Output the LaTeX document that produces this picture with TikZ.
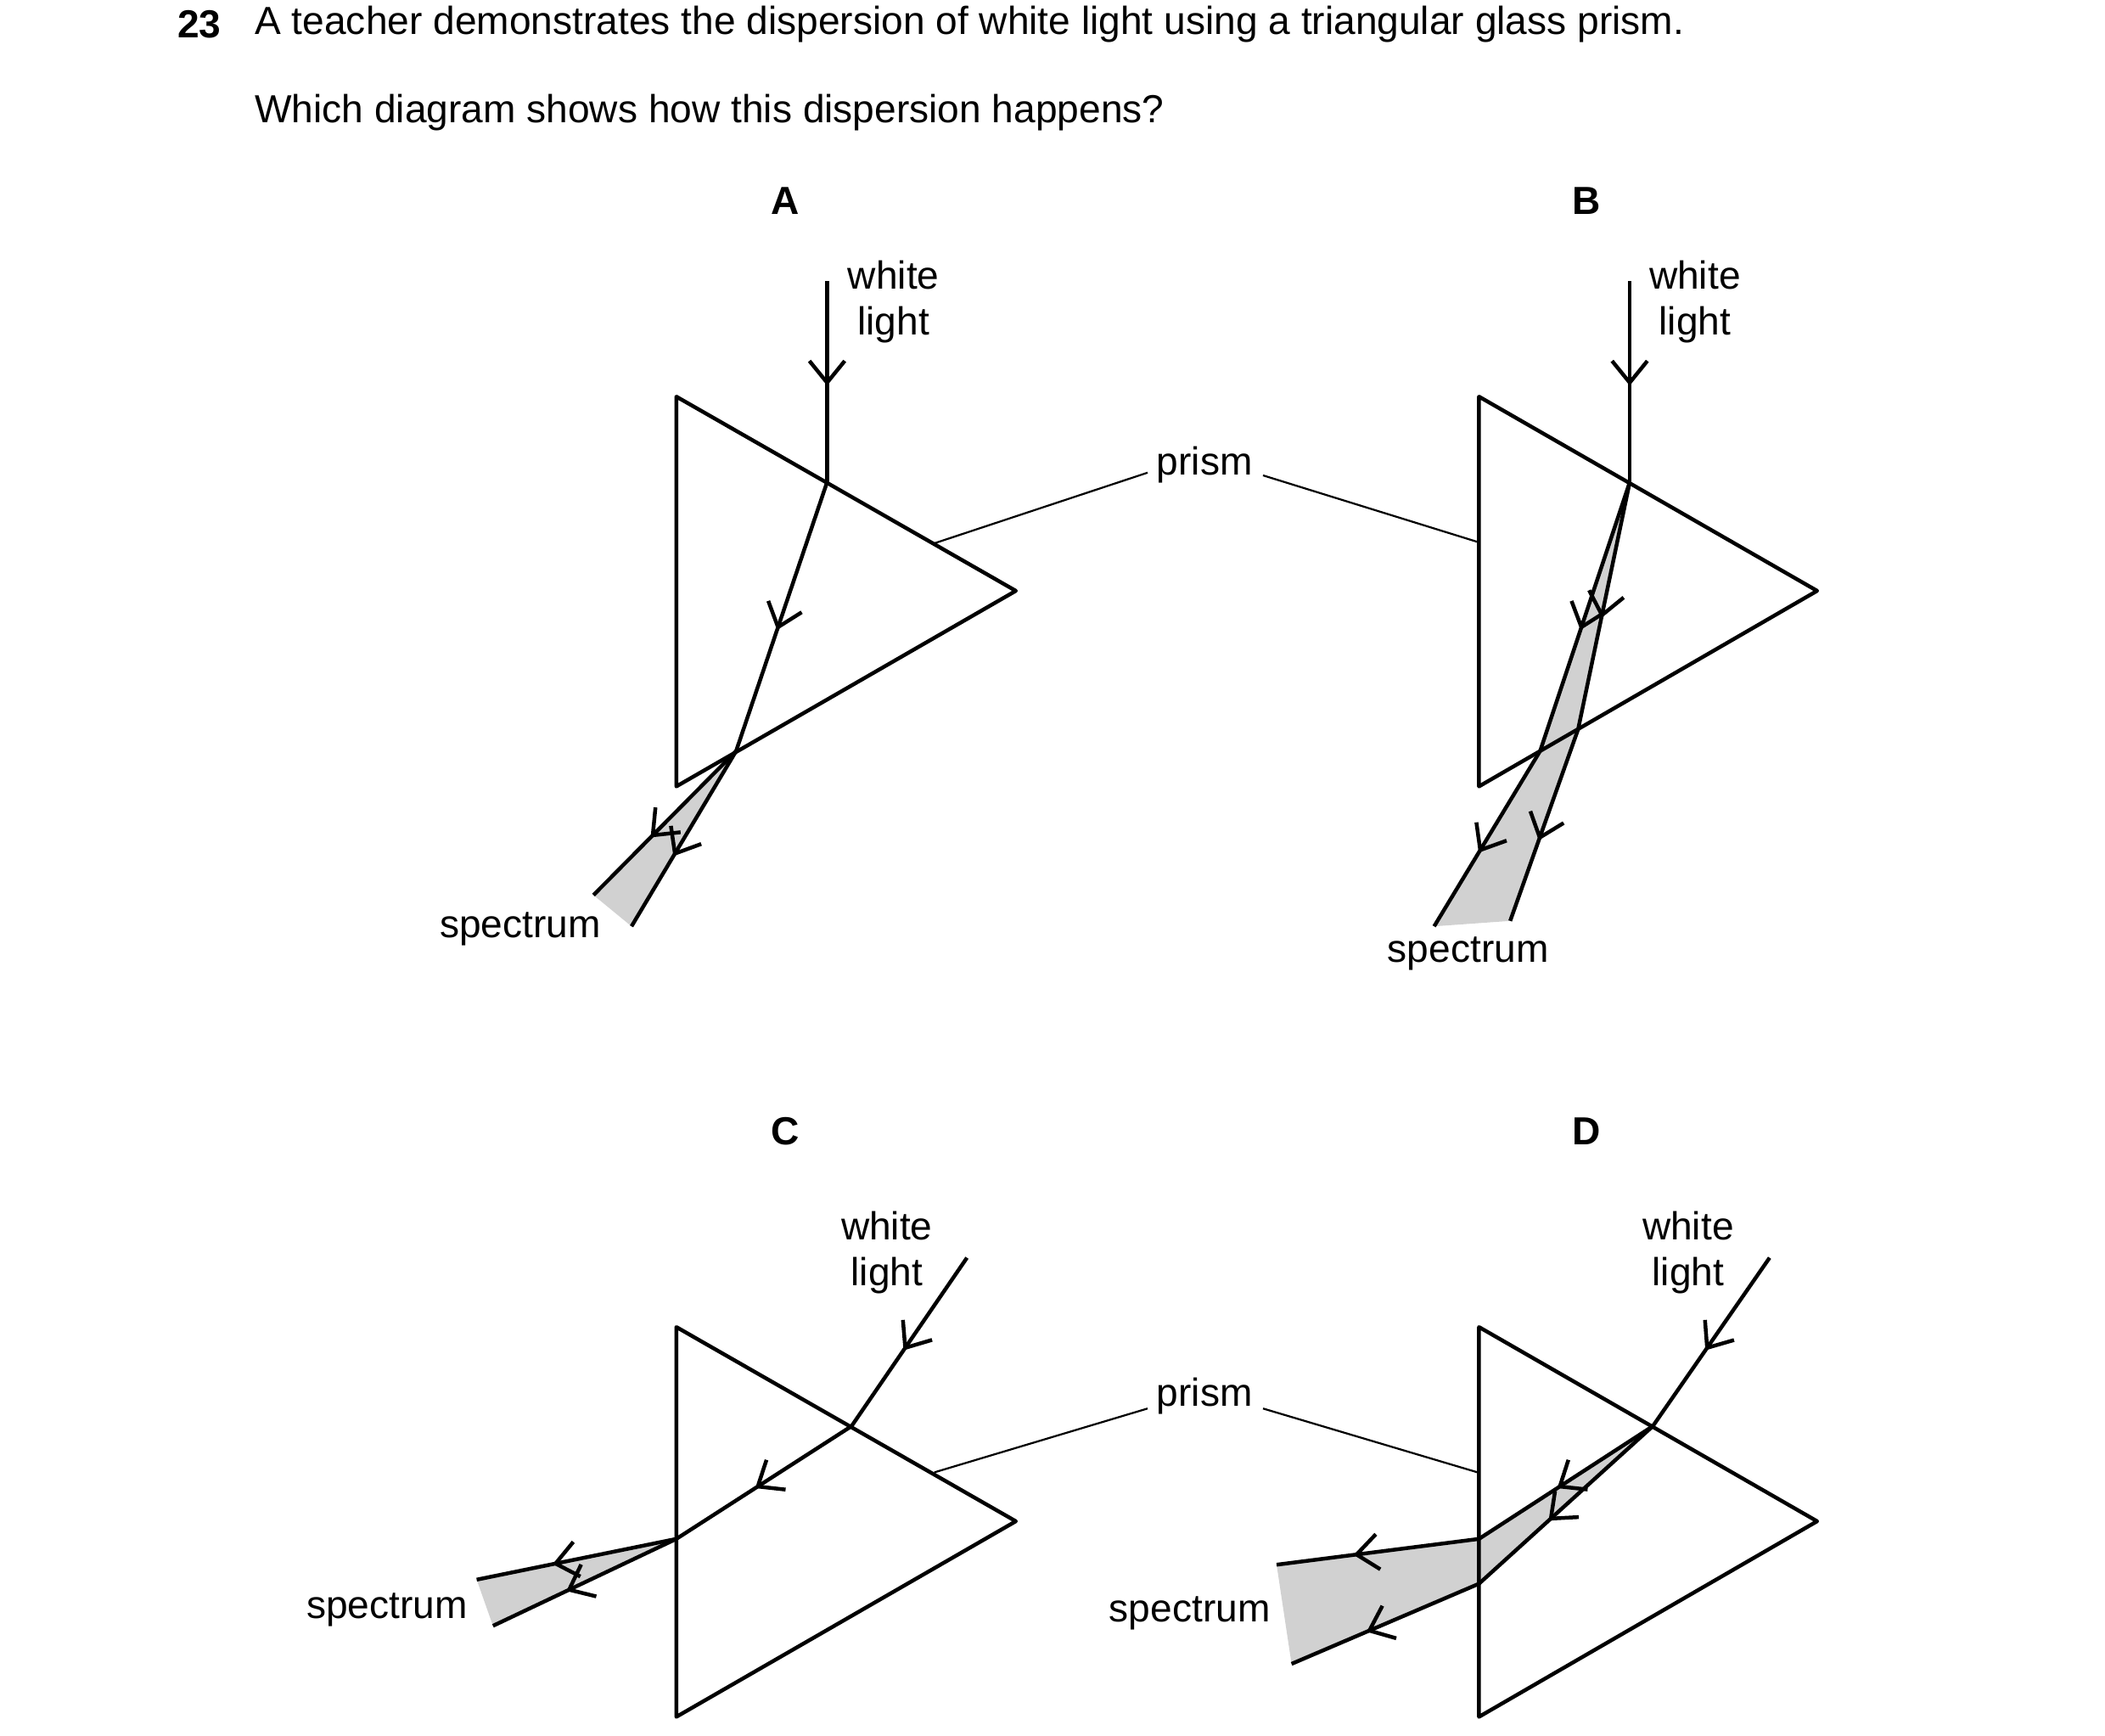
\documentclass[tikz,border=0pt]{standalone}
\usepackage{fontspec}
\setmainfont{Liberation Sans}
\usetikzlibrary{arrows.meta,decorations.markings}
\begin{document}
\begin{tikzpicture}[x=0.1mm,y=-0.1mm,
  ray/.style={line width=0.8pt,line join=round},
  fillb/.style={fill=black!18,draw=none},
  lab/.style={font=\fontsize{8.2}{9.6}\selectfont,align=center,inner sep=0pt},
  let/.style={font=\fontsize{8.2}{9.6}\selectfont\bfseries,inner sep=0pt},
  lead/.style={line width=0.4pt},
  ma/.style={postaction={decorate},decoration={markings,mark=at position #1 with {\arrow{Straight Barb[length=1.6mm,width=2.6mm,line width=0.8pt]}}}}]
\useasboundingbox (0,0) rectangle (1550,1278);
\node[let,anchor=west] (q) at (130,18) {23};
\node[lab,anchor=west] (t1) at (187,18) {A teacher demonstrates the dispersion of white light using a triangular glass prism.};
\node[lab,anchor=west] (t2) at (187,83) {Which diagram shows how this dispersion happens?};
% A
\node[let] (LA) at (578,148) {A};
\coordinate (a1) at (498,292); \coordinate (a2) at (748,435); \coordinate (a3) at (498,579);
\coordinate (aw) at (609,207); \coordinate (ae) at (609,355); \coordinate (ax) at (542,553);
\coordinate (as1) at (437,659); \coordinate (as2) at (465,682);
\fill[fillb] (ax)--(as1)--(as2)--cycle;
\draw[ray] (a1)--(a2)--(a3)--cycle;
\draw[ray,ma=0.52] (aw)--(ae);
\draw[ray,ma=0.55] (ae)--(ax);
\draw[ray,ma=0.6] (ax)--(as1);
\draw[ray,ma=0.6] (ax)--(as2);
\node[lab] (wA) at (658,222) {white\\light};
\node[lab] (sA) at (383,684) {spectrum};
% B
\node[let] (LB) at (1168,148) {B};
\coordinate (b1) at (1089,292); \coordinate (b2) at (1338,435); \coordinate (b3) at (1089,579);
\coordinate (bw) at (1200,207); \coordinate (be) at (1200,355);
\coordinate (bx1) at (1134,553); \coordinate (bx2) at (1162,537);
\coordinate (bs1) at (1056,682); \coordinate (bs2) at (1112,678);
\fill[fillb] (be)--(bx1)--(bs1)--(bs2)--(bx2)--cycle;
\draw[ray] (b1)--(b2)--(b3)--cycle;
\draw[ray,ma=0.52] (bw)--(be);
\draw[ray,ma=0.55] (be)--(bx1);
\draw[ray,ma=0.55] (be)--(bx2);
\draw[ray,ma=0.58] (bx1)--(bs1);
\draw[ray,ma=0.58] (bx2)--(bs2);
\node[lab] (wB) at (1248,222) {white\\light};
\node[lab] (sB) at (1081,702) {spectrum};
% prism label top
\node[lab] (p1) at (887,342) {prism};
\coordinate (pa) at (688,400); \coordinate (pb) at (1088,399);
\draw[lead] (pa)--(845,348); \draw[lead] (930,350)--(pb);
% C
\node[let] (LC) at (578,833) {C};
\coordinate (c1) at (498,977); \coordinate (c2) at (748,1120); \coordinate (c3) at (498,1264);
\coordinate (cw) at (712,926); \coordinate (ce) at (627,1050); \coordinate (cx) at (498,1133);
\coordinate (cs1) at (351,1163); \coordinate (cs2) at (363,1197);
\fill[fillb] (cx)--(cs1)--(cs2)--cycle;
\draw[ray] (c1)--(c2)--(c3)--cycle;
\draw[ray,ma=0.55] (cw)--(ce);
\draw[ray,ma=0.55] (ce)--(cx);
\draw[ray,ma=0.62] (cx)--(cs1);
\draw[ray,ma=0.6] (cx)--(cs2);
\node[lab] (wC) at (653,922) {white\\light};
\node[lab] (sC) at (285,1185) {spectrum};
% D
\node[let] (LD) at (1168,833) {D};
\coordinate (d1) at (1089,977); \coordinate (d2) at (1338,1120); \coordinate (d3) at (1089,1264);
\coordinate (dw) at (1303,926); \coordinate (de) at (1217,1050);
\coordinate (dx1) at (1089,1133); \coordinate (dx2) at (1089,1166);
\coordinate (ds1) at (940,1152); \coordinate (ds2) at (951,1225);
\fill[fillb] (de)--(dx1)--(ds1)--(ds2)--(dx2)--cycle;
\draw[ray] (d1)--(d2)--(d3)--cycle;
\draw[ray,ma=0.55] (dw)--(de);
\draw[ray,ma=0.55] (de)--(dx1);
\draw[ray,ma=0.6] (de)--(dx2);
\draw[ray,ma=0.62] (dx1)--(ds1);
\draw[ray,ma=0.6] (dx2)--(ds2);
\node[lab] (wD) at (1243,922) {white\\light};
\node[lab] (sD) at (876,1188) {spectrum};
% prism label bottom
\node[lab] (p2) at (887,1028) {prism};
\coordinate (pc) at (688,1084); \coordinate (pd) at (1088,1084);
\draw[lead] (pc)--(845,1037); \draw[lead] (930,1037)--(pd);
\end{tikzpicture}
\end{document}
